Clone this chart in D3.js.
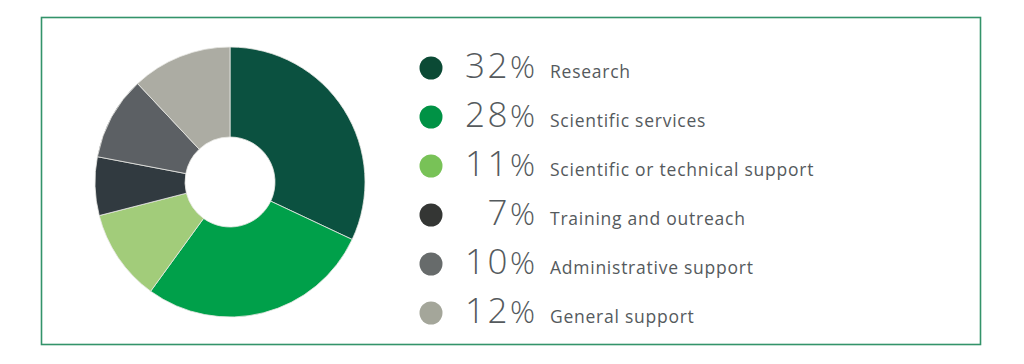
<!DOCTYPE html>
<html><head><meta charset="utf-8">
<script src="https://cdn.jsdelivr.net/npm/d3@7"></script>
<style>body{margin:0;background:#fff}svg{display:block}</style>
</head><body>
<svg id="c" width="1024" height="364"></svg>
<script>
const categories = ["Research","Scientific services","Scientific or technical support","Training and outreach","Administrative support","General support"];
const values = [32, 28, 11, 7, 10, 12];
const pieColors = ["#0b5140","#00a04a","#a2cc7a","#313a40","#5c6064","#acaca3"];
const legendColors = ["#0b4a35","#009245","#78c257","#343634","#676b6b","#a4a69a"];

const svg = d3.select("#c");
svg.append("rect").attr("x",41.5).attr("y",17.5).attr("width",939).attr("height",327)
  .attr("fill","none").attr("stroke","#33936a").attr("stroke-width",1.6);

const cx = 230, cy = 182, R = 135, r0 = 45;
const pie = d3.pie().sort(null).value(d => d)(values);
const arc = d3.arc().innerRadius(r0).outerRadius(R);
const g = svg.append("g").attr("transform",`translate(${cx},${cy})`);
g.selectAll("path").data(pie).join("path")
  .attr("d", arc).attr("fill",(d,i)=>pieColors[i])
  .attr("stroke","#e8e8e4").attr("stroke-width",0.8);

const y = d3.scalePoint().domain(categories).range([68, 313]);
const leg = svg.append("g");
const rows = leg.selectAll("g").data(categories).join("g")
  .attr("transform", d => `translate(0,${y(d)})`);
rows.append("circle").attr("cx",431).attr("cy",0).attr("r",11.5).attr("fill",(d,i)=>legendColors[i]);
const num = rows.append("text").attr("x",535).attr("y",10).attr("text-anchor","end")
  .attr("font-family","'Open Sans', sans-serif").attr("font-weight",300)
  .attr("fill","#555a5d").attr("font-size",35).attr("letter-spacing",2.5);
num.append("tspan").text((d,i)=>values[i]);
num.append("tspan").attr("font-size",31).attr("letter-spacing",0).text("%");
rows.append("text").attr("x",550).attr("y",10)
  .attr("font-family","'Open Sans', sans-serif").attr("font-size",17.5)
  .attr("letter-spacing",0.75)
  .attr("fill","#555a5d").text(d=>d);
</script>
</body></html>
